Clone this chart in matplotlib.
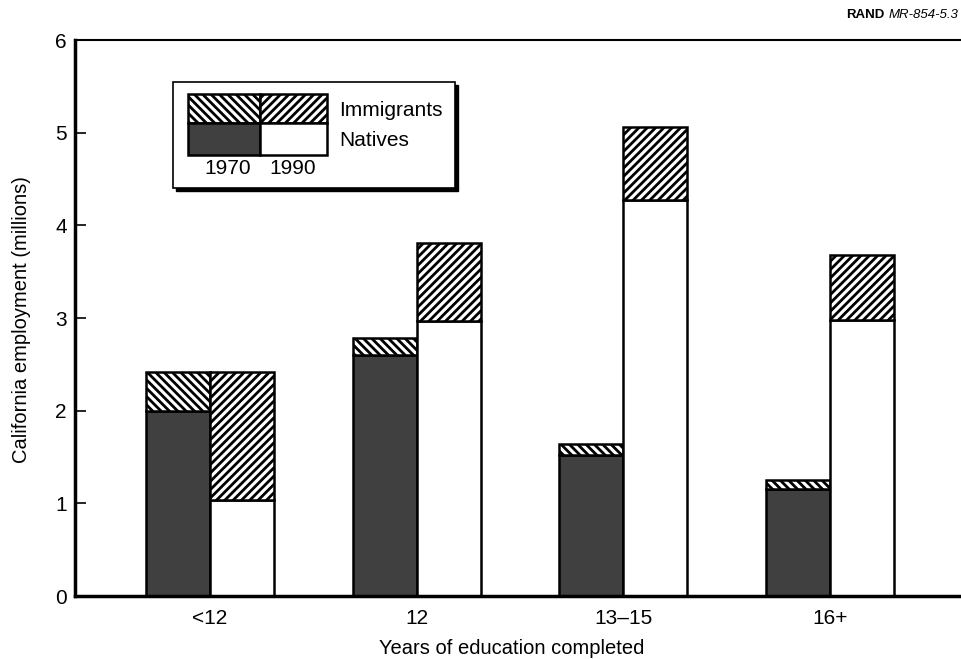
import matplotlib.pyplot as plt
from matplotlib.patches import Rectangle
import numpy as np

plt.rcParams['font.family'] = ['Liberation Sans', 'DejaVu Sans']
plt.rcParams['hatch.linewidth'] = 2.0

categories = ['<12', '12', '13–15', '16+']
natives_1970 = [2.00, 2.60, 1.52, 1.15]
immig_1970 = [0.42, 0.18, 0.12, 0.10]
natives_1990 = [1.04, 2.97, 4.27, 2.98]
immig_1990 = [1.38, 0.84, 0.79, 0.70]

W, H = 961, 659
fig = plt.figure(figsize=(W / 100, H / 100), dpi=100)
ax = fig.add_axes([75 / W, 1 - 596 / H, 886 / W, 556 / H])

x = np.arange(len(categories))
bw = 0.31
dark = '#404040'
back = '\\\\\\\\'
fwd = '////'

ax.bar(x - bw / 2, natives_1970, bw, color=dark, edgecolor='black', linewidth=1.8)
ax.bar(x - bw / 2, immig_1970, bw, bottom=natives_1970, color='white',
       edgecolor='black', linewidth=1.8, hatch=back)
ax.bar(x + bw / 2, natives_1990, bw, color='white', edgecolor='black', linewidth=1.8)
ax.bar(x + bw / 2, immig_1990, bw, bottom=natives_1990, color='white',
       edgecolor='black', linewidth=1.8, hatch=fwd)

ax.set_xlim((75 - 210) / 206.7, (961 - 210) / 206.7)
ax.set_ylim(0, 6)
ax.set_yticks(range(7))
ax.set_xticks(x)
ax.set_xticklabels(categories)
ax.tick_params(axis='y', direction='in', length=8, width=1.2, pad=6, labelsize=15)
ax.tick_params(axis='x', length=0, pad=9, labelsize=15)
ax.spines['right'].set_visible(False)
ax.spines['left'].set_linewidth(2.5)
ax.spines['bottom'].set_linewidth(2.5)
ax.spines['top'].set_linewidth(1.5)

fig.text(22 / W, 1 - 320 / H, 'California employment (millions)', rotation=90,
         ha='center', va='center', fontsize=14.5)
fig.text(512 / W, 1 - 648 / H, 'Years of education completed',
         ha='center', va='center', fontsize=14.5)

fig.text(958 / W, 1 - 15 / H, 'MR-854-5.3', fontsize=9.5, style='italic',
         ha='right', va='center')
fig.text(884 / W, 1 - 15 / H, 'RAND', fontsize=9.5, fontweight='bold',
         ha='right', va='center')


def rect(x0, y0, x1, y1, **kw):
    r = Rectangle((x0 / W, 1 - y1 / H), (x1 - x0) / W, (y1 - y0) / H,
                  transform=fig.transFigure, zorder=kw.pop('zorder', 6), **kw)
    fig.add_artist(r)


# legend box with shadow
rect(176, 85, 458, 191, facecolor='black', edgecolor='black', zorder=5)
rect(173, 82, 455, 188, facecolor='white', edgecolor='black', linewidth=1.2)
rect(188, 94, 260, 123, facecolor='white', edgecolor='black', linewidth=1.8, hatch=back, zorder=7)
rect(260, 94, 327, 123, facecolor='white', edgecolor='black', linewidth=1.8, hatch=fwd, zorder=7)
rect(188, 123, 260, 155, facecolor=dark, edgecolor='black', linewidth=1.8, zorder=7)
rect(260, 123, 327, 155, facecolor='white', edgecolor='black', linewidth=1.8, zorder=7)
fig.text(339 / W, 1 - 110 / H, 'Immigrants', fontsize=15, va='center', zorder=8)
fig.text(339 / W, 1 - 141 / H, 'Natives', fontsize=15, va='center', zorder=8)
fig.text(228 / W, 1 - 169 / H, '1970', fontsize=15, ha='center', va='center', zorder=8)
fig.text(293 / W, 1 - 169 / H, '1990', fontsize=15, ha='center', va='center', zorder=8)

fig.savefig('out.png', dpi=100)
